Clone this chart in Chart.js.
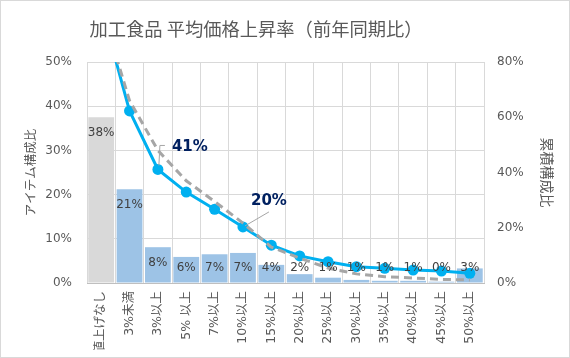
<!DOCTYPE html>
<html>
<head>
<meta charset="utf-8">
<script src="https://cdn.jsdelivr.net/npm/chart.js@4"></script>
<style>
html,body{margin:0;padding:0;background:#fff;}
#wrap{width:570px;height:358px;position:relative;}
</style>
</head>
<body>
<div id="wrap"><canvas id="c" width="570" height="358"></canvas></div>
<script>
// ---- data ----
const categories = ['値上げなし','3%未満','3%以上','5% 以上','7%以上','10%以上','15%以上','20%以上','25%以上','30%以上','35%以上','40%以上','45%以上','50%以上'];
const itemShare = [37.5, 21.2, 8.1, 5.9, 6.5, 6.8, 4.1, 2.0, 1.2, 0.7, 0.5, 0.5, 0.3, 3.3];
const cumulativeShare = [100, 62.3, 41.1, 32.9, 26.7, 20.3, 13.7, 9.8, 7.7, 5.9, 5.3, 4.7, 4.3, 3.5];
const cumulativeCompare = [100, 66, 48, 37, 29.5, 21.7, 13, 9, 5.4, 3.3, 2.3, 1.8, 1.3, 1.1];
const leftTickRange = [0, 50, 10];
const rightTickRange = [0, 80, 20];
const calloutIndexes = [2, 5];
const titleText = '加工食品 平均価格上昇率（前年同期比）';
const leftTitle = 'アイテム構成比';
const rightTitle = '累積構成比';

const LAT = '"DejaVu Sans", "Noto Sans CJK JP", sans-serif';
const CJK = '"Noto Sans CJK JP", sans-serif';

const bgPlugin = {
  id: 'bg',
  beforeDraw(chart) {
    const ctx = chart.ctx;
    ctx.save();
    ctx.fillStyle = '#fff';
    ctx.fillRect(0, 0, chart.width, chart.height);
    ctx.strokeStyle = '#D9D9D9';
    ctx.lineWidth = 1;
    ctx.strokeRect(0.5, 0.5, chart.width - 1, chart.height - 1);
    // chart title
    ctx.fillStyle = '#595959';
    ctx.font = '18.3px ' + CJK;
    ctx.textAlign = 'center';
    ctx.textBaseline = 'middle';
    ctx.fillText(titleText, 256, 29);
    ctx.restore();
  }
};

const labelPlugin = {
  id: 'labels',
  afterDatasetsDraw(chart) {
    const ctx = chart.ctx;
    const bottom = chart.scales.y.getPixelForValue(0);
    const meta = chart.getDatasetMeta(0);
    ctx.save();
    ctx.font = '12px ' + LAT;
    ctx.fillStyle = '#404040';
    ctx.textAlign = 'center';
    ctx.textBaseline = 'middle';
    meta.data.forEach((bar, i) => {
      const y = Math.min(bar.y + 16, bottom - 15);
      ctx.fillText(Math.round(itemShare[i]) + '%', bar.x, y);
    });
    // callouts
    const lm = chart.getDatasetMeta(1);
    ctx.strokeStyle = '#A6A6A6';
    ctx.lineWidth = 1;
    ctx.fillStyle = '#002060';
    ctx.font = 'bold 15px ' + LAT;
    ctx.textAlign = 'left';
    calloutIndexes.forEach((idx, k) => {
      const p = lm.data[idx];
      const txt = Math.round(cumulativeShare[idx]) + '%';
      ctx.beginPath();
      if (k === 0) {
        ctx.moveTo(p.x + 1, p.y - 4);
        ctx.lineTo(p.x + 2, p.y - 24);
        ctx.lineTo(p.x + 7, p.y - 24);
        ctx.stroke();
        ctx.fillText(txt, p.x + 14, p.y - 22);
      } else {
        ctx.moveTo(p.x + 2, p.y - 1);
        ctx.lineTo(p.x + 26, p.y - 15);
        ctx.stroke();
        ctx.fillText(txt, p.x + 8, p.y - 26);
      }
    });
    ctx.restore();
  }
};

new Chart(document.getElementById('c'), {
  type: 'bar',
  data: {
    labels: categories,
    datasets: [
      {
        type: 'bar',
        data: itemShare,
        yAxisID: 'y',
        backgroundColor: c => c.dataIndex === 0 ? '#D9D9D9' : '#9DC3E6',
        barPercentage: 0.91,
        categoryPercentage: 1,
        order: 3
      },
      {
        type: 'line',
        data: cumulativeShare,
        yAxisID: 'y1',
        borderColor: '#00B0F0',
        backgroundColor: '#00B0F0',
        borderWidth: 3,
        pointRadius: 5.5,
        pointBackgroundColor: '#00B0F0',
        pointBorderWidth: 0,
        tension: 0,
        order: 2
      },
      {
        type: 'line',
        data: cumulativeCompare,
        yAxisID: 'y1',
        borderColor: '#A6A6A6',
        borderWidth: 3,
        borderDash: [8, 5],
        pointRadius: 0,
        tension: 0,
        order: 1
      }
    ]
  },
  options: {
    responsive: false,
    animation: false,
    events: [],
    layout: { padding: { left: 8, right: 8, top: 62, bottom: 8 } },
    plugins: {
      legend: { display: false },
      tooltip: { enabled: false },
      title: { display: false }
    },
    scales: {
      x: {
        grid: { color: '#D9D9D9', drawTicks: false, offset: true },
        border: { color: '#BFBFBF' },
        ticks: {
          color: '#595959',
          font: { family: LAT, size: 12.5 },
          maxRotation: 90, minRotation: 90,
          autoSkip: false,
          padding: 8
        },
        afterFit(s) { s.height = 67; }
      },
      y: {
        position: 'left',
        min: leftTickRange[0], max: leftTickRange[1],
        grid: { color: '#D9D9D9', drawTicks: false },
        border: { display: false },
        ticks: {
          stepSize: leftTickRange[2],
          color: '#595959',
          font: { family: LAT, size: 12 },
          padding: 15,
          callback: v => v + '%'
        },
        title: {
          display: true, text: leftTitle, color: '#595959',
          font: { family: CJK, size: 12.5 },
          padding: { top: 14.5, bottom: 0 }
        },
        afterFit(s) { s.width = 79; }
      },
      y1: {
        position: 'right',
        min: rightTickRange[0], max: rightTickRange[1],
        grid: { display: false, drawTicks: false },
        border: { display: false },
        ticks: {
          stepSize: rightTickRange[2],
          color: '#595959',
          font: { family: LAT, size: 12 },
          padding: 13,
          callback: v => v + '%'
        },
        title: {
          display: true, text: rightTitle, color: '#595959',
          font: { family: CJK, size: 14 },
          padding: { top: 6.6, bottom: 0 }
        },
        afterFit(s) { s.width = 78; }
      }
    }
  },
  plugins: [bgPlugin, labelPlugin]
});
</script>
</body>
</html>
